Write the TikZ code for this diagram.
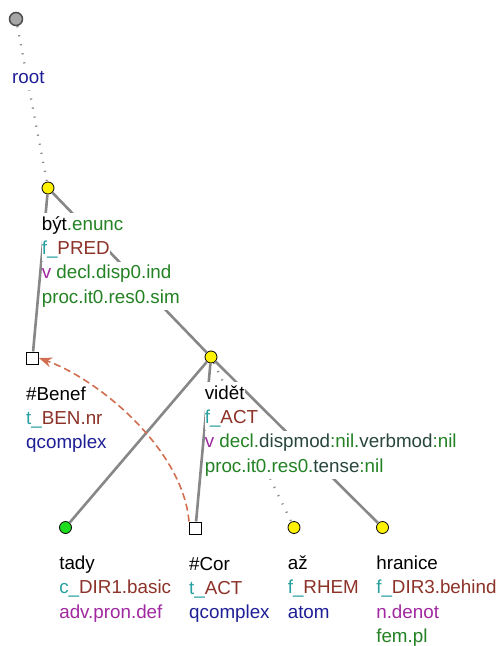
\documentclass[tikz,border=0pt]{standalone}
\usepackage{fontspec}
\setmainfont{Liberation Sans}
\usetikzlibrary{positioning,arrows.meta}

\definecolor{funccol}{RGB}{40,160,160}
\definecolor{valcol}{RGB}{140,50,40}
\definecolor{poscol}{RGB}{160,40,160}
\definecolor{gramcol}{RGB}{35,130,35}
\definecolor{nodecol}{RGB}{30,30,150}
\definecolor{attrcol}{RGB}{40,70,60}
\definecolor{corefcol}{RGB}{210,110,80}
\definecolor{edgecol}{RGB}{135,135,135}
\definecolor{leafcol}{RGB}{30,220,30}

\begin{document}
\begin{tikzpicture}[
    x=1pt, y=-1pt,
    tnode/.style={circle, draw=black, line width=0.8pt, fill=yellow, minimum size=12pt, inner sep=0pt},
    troot/.style={tnode, fill=black!35, draw=black!70, line width=1.5pt, minimum size=13pt},
    tleaf/.style={tnode, fill=leafcol},
    tsq/.style={rectangle, draw=black, line width=1pt, fill=white, minimum size=12pt, inner sep=0pt},
    treeedge/.style={draw=edgecol, line width=2.6pt},
    hidedge/.style={draw=edgecol, line width=2.2pt, dash pattern=on 1.2pt off 8pt},
    lbl/.style={fill=white, inner sep=0pt, text height=17pt, text depth=7pt, font=\fontsize{18.8}{24}\selectfont},
    coref/.style={draw=corefcol, line width=1.6pt, dash pattern=on 7pt off 4pt, -{Stealth[length=13pt, width=10pt, fill=corefcol]}}
]
\useasboundingbox (0,0) rectangle (503,646);

% Tree nodes
\node[troot] (root) at (16,19) {};
\node[tnode] (byt) at (48,188) {};
\node[tsq] (benef) at (32.5,358) {};
\node[tnode] (videt) at (211,357) {};
\node[tleaf] (tady) at (65.5,527.5) {};
\node[tsq] (cor) at (195.5,528) {};
\node[tnode] (az) at (294,527.5) {};
\node[tnode] (hranice) at (382.5,527.5) {};

% Edges (under the labels)
\draw[hidedge] (root) -- (byt);
\draw[treeedge] (byt) -- (benef);
\draw[treeedge] (byt) -- (videt);
\draw[treeedge] (videt) -- (tady);
\draw[treeedge] (videt) -- (cor);
\draw[hidedge] (videt) -- (az);
\draw[treeedge] (videt) -- (hranice);

% Labels, one line each
\node[lbl, anchor=base west] (rootl) at (12,83) {\textcolor{nodecol}{root}};

\node[lbl, anchor=base west] (byt1) at ([yshift=-42pt]byt.west) {být\textcolor{gramcol}{.enunc}};
\node[lbl, below=0pt of byt1.south west, anchor=north west] (byt2) {\textcolor{funccol}{f\_}\textcolor{valcol}{PRED}};
\node[lbl, below=0pt of byt2.south west, anchor=north west] (byt3) {\textcolor{poscol}{v} \textcolor{gramcol}{decl.disp0.ind}};
\node[lbl, below=0pt of byt3.south west, anchor=north west] (byt4) {\textcolor{gramcol}{proc.it0.res0.sim}};

\node[lbl, anchor=base west] (benef1) at ([yshift=-42pt]benef.west) {\#Benef};
\node[lbl, below=0pt of benef1.south west, anchor=north west] (benef2) {\textcolor{funccol}{t\_}\textcolor{valcol}{BEN.nr}};
\node[lbl, below=0pt of benef2.south west, anchor=north west] (benef3) {\textcolor{nodecol}{qcomplex}};

\node[lbl, anchor=base west] (videt1) at ([yshift=-42pt]videt.west) {vidět};
\node[lbl, below=0pt of videt1.south west, anchor=north west] (videt2) {\textcolor{funccol}{f\_}\textcolor{valcol}{ACT}};
\node[lbl, below=0pt of videt2.south west, anchor=north west] (videt3) {\textcolor{poscol}{v} \textcolor{gramcol}{decl.}\textcolor{attrcol}{dispmod}\textcolor{gramcol}{:nil.}\textcolor{attrcol}{verbmod}\textcolor{gramcol}{:nil}};
\node[lbl, below=0pt of videt3.south west, anchor=north west] (videt4) {\textcolor{gramcol}{proc.it0.res0.}\textcolor{attrcol}{tense}\textcolor{gramcol}{:nil}};

\node[lbl, anchor=base west] (tady1) at ([yshift=-42pt]tady.west) {tady};
\node[lbl, below=0pt of tady1.south west, anchor=north west] (tady2) {\textcolor{funccol}{c\_}\textcolor{valcol}{DIR1.basic}};
\node[lbl, below=0pt of tady2.south west, anchor=north west] (tady3) {\textcolor{poscol}{adv.pron.def}};

\node[lbl, anchor=base west] (cor1) at ([yshift=-42pt]cor.west) {\#Cor};
\node[lbl, below=0pt of cor1.south west, anchor=north west] (cor2) {\textcolor{funccol}{t\_}\textcolor{valcol}{ACT}};
\node[lbl, below=0pt of cor2.south west, anchor=north west] (cor3) {\textcolor{nodecol}{qcomplex}};

\node[lbl, anchor=base west] (az1) at ([yshift=-42pt]az.west) {až};
\node[lbl, below=0pt of az1.south west, anchor=north west] (az2) {\textcolor{funccol}{f\_}\textcolor{valcol}{RHEM}};
\node[lbl, below=0pt of az2.south west, anchor=north west] (az3) {\textcolor{nodecol}{atom}};

\node[lbl, anchor=base west] (hranice1) at ([yshift=-42pt]hranice.west) {hranice};
\node[lbl, below=0pt of hranice1.south west, anchor=north west] (hranice2) {\textcolor{funccol}{f\_}\textcolor{valcol}{DIR3.behind}};
\node[lbl, below=0pt of hranice2.south west, anchor=north west] (hranice3) {\textcolor{poscol}{n.denot}};
\node[lbl, below=0pt of hranice3.south west, anchor=north west] (hranice4) {\textcolor{gramcol}{fem.pl}};

% Coreference arrow
\draw[coref] (cor.north west) .. controls (183,450) and (100,380) .. (benef.east);
\end{tikzpicture}
\end{document}
